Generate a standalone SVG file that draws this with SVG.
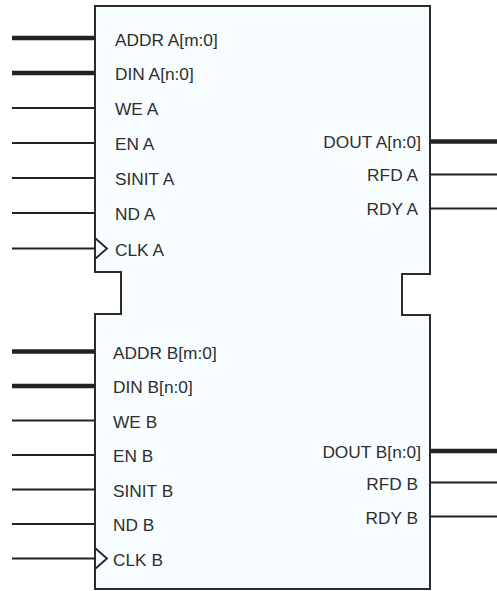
<svg xmlns="http://www.w3.org/2000/svg" width="497" height="591" viewBox="0 0 497 591">
<style>
.body{fill:#f8fdff;stroke:#2b2b2b;stroke-width:2;stroke-linejoin:miter}
.bus{stroke:#222;stroke-width:4.5;fill:none}
.sig{stroke:#222;stroke-width:2.2;fill:none}
.clk{stroke:#222;stroke-width:1.8;fill:none}
text{font-family:"Liberation Sans",Arial,sans-serif;font-size:17.3px;fill:#2e2e2e}
.r{text-anchor:end}
</style>
<rect width="497" height="591" fill="#ffffff"/>
<g id="memory-block">
<path class="body" d="M95,6 H430 V274 H402 V315 H430 V589 H95 V314 H121 V272 H95 Z"/>
</g>
<g id="connectors">
<line class="bus" x1="12" y1="38" x2="95" y2="38"/>
<line class="bus" x1="12" y1="73" x2="95" y2="73"/>
<line class="sig" x1="12" y1="108" x2="95" y2="108"/>
<line class="sig" x1="12" y1="143" x2="95" y2="143"/>
<line class="sig" x1="12" y1="178" x2="95" y2="178"/>
<line class="sig" x1="12" y1="213" x2="95" y2="213"/>
<line class="sig" x1="12" y1="248.5" x2="95" y2="248.5"/>
<line class="bus" x1="430" y1="141.5" x2="497" y2="141.5"/>
<line class="sig" x1="430" y1="174.5" x2="497" y2="174.5"/>
<line class="sig" x1="430" y1="208.5" x2="497" y2="208.5"/>
<line class="bus" x1="12" y1="351.5" x2="95" y2="351.5"/>
<line class="bus" x1="12" y1="386" x2="95" y2="386"/>
<line class="sig" x1="12" y1="420.5" x2="95" y2="420.5"/>
<line class="sig" x1="12" y1="455" x2="95" y2="455"/>
<line class="sig" x1="12" y1="489.5" x2="95" y2="489.5"/>
<line class="sig" x1="12" y1="524" x2="95" y2="524"/>
<line class="sig" x1="12" y1="558.5" x2="95" y2="558.5"/>
<line class="bus" x1="430" y1="451" x2="497" y2="451"/>
<line class="sig" x1="430" y1="482.5" x2="497" y2="482.5"/>
<line class="sig" x1="430" y1="516.5" x2="497" y2="516.5"/>
</g>
<g id="port-a">
<polyline class="clk" points="95,238 107,248.5 95,259"/>
<text x="115" y="45.5">ADDR A[m:0]</text>
<text x="115" y="80">DIN A[n:0]</text>
<text x="115" y="115">WE A</text>
<text x="115" y="150">EN A</text>
<text x="115" y="185">SINIT A</text>
<text x="115" y="220">ND A</text>
<text x="115" y="255.5">CLK A</text>
<text class="r" x="421" y="148">DOUT A[n:0]</text>
<text class="r" x="418" y="181">RFD A</text>
<text class="r" x="418" y="215">RDY A</text>
</g>
<g id="port-b">
<polyline class="clk" points="95,548 107,558.5 95,569"/>
<text x="113" y="358.5">ADDR B[m:0]</text>
<text x="113" y="393">DIN B[n:0]</text>
<text x="113" y="427.5">WE B</text>
<text x="113" y="462">EN B</text>
<text x="113" y="496.5">SINIT B</text>
<text x="113" y="531">ND B</text>
<text x="113" y="565.5">CLK B</text>
<text class="r" x="421" y="457.5">DOUT B[n:0]</text>
<text class="r" x="418" y="489.5">RFD B</text>
<text class="r" x="418" y="523.5">RDY B</text>
</g>
</svg>
